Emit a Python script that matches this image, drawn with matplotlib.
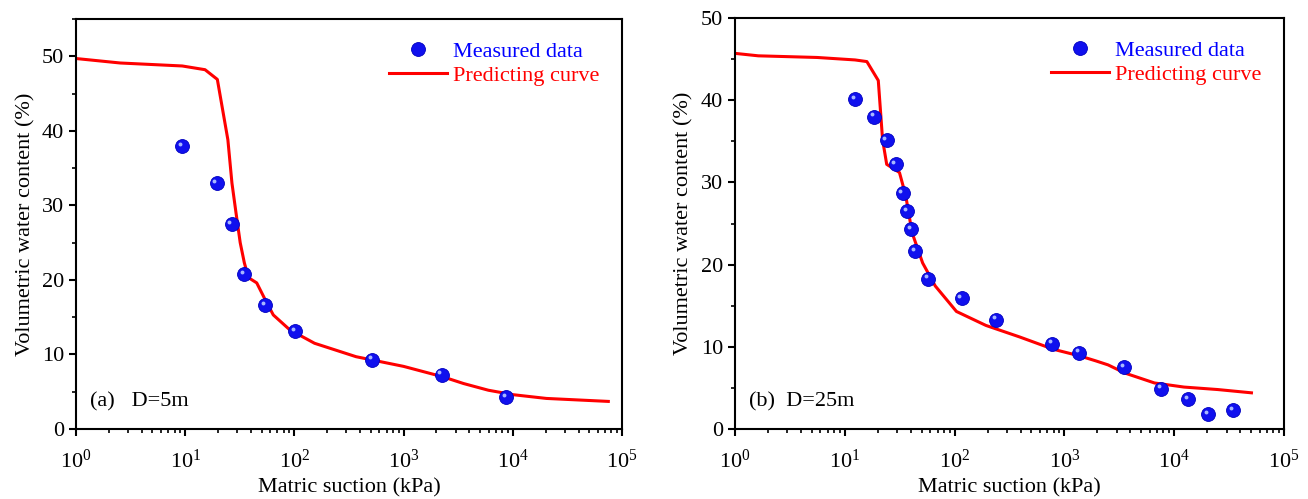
import numpy as np
import matplotlib
matplotlib.use("Agg")
from matplotlib import pyplot as plt
from matplotlib.ticker import LogLocator, MultipleLocator, NullFormatter
import matplotlib.transforms as mtransforms

plt.rcParams['font.family'] = ['Liberation Serif', 'DejaVu Serif']
plt.rcParams['mathtext.fontset'] = 'stix'

# (a) D=5m
meas_a_x = [9.35, 19.4, 26.6, 34.9, 54.1, 101, 516, 2230, 8670]
meas_a_y = [37.9, 33.0, 27.5, 20.8, 16.6, 13.1, 9.3, 7.3, 4.3]
curve_a_x = [1, 2.54, 9.4, 15.2, 19.7, 24.6, 26.8, 29.2, 31.9, 34.8, 38, 45.2, 53.8,
             64.1, 90.8, 153, 367, 1000, 2290, 3540, 5980, 10100, 20300, 75000]
curve_a_y = [49.7, 49.1, 48.7, 48.2, 46.9, 38.8, 33.0, 29.0, 25.0, 22.3, 20.3, 19.6, 17.4,
             15.3, 13.3, 11.5, 9.7, 8.4, 7.0, 6.1, 5.2, 4.6, 4.1, 3.7]

# (b) D=25m
meas_b_x = [12.4, 18.5, 24.1, 29.1, 33.7, 37.2, 40.3, 44.0, 57.4, 116, 238, 780, 1372,
            3530, 7620, 13400, 20500, 34300]
meas_b_y = [40.1, 38.0, 35.1, 32.2, 28.7, 26.5, 24.3, 21.6, 18.3, 15.9, 13.3, 10.4, 9.3,
            7.5, 4.9, 3.6, 1.8, 2.3]
curve_b_x = [1, 1.63, 5.6, 12.4, 15.9, 20.2, 22.1, 24.1, 31.5, 35.9, 41.0, 51.2, 66.7,
             104, 193, 391, 794, 1372, 1920, 2500, 3570, 6620, 12300, 24900, 50600]
curve_b_y = [45.7, 45.4, 45.2, 44.9, 44.7, 42.4, 35.2, 32.2, 31.2, 28.4, 23.9, 20.2, 17.4,
             14.3, 12.6, 11.2, 9.7, 8.9, 8.3, 7.8, 6.8, 5.6, 5.1, 4.8, 4.4]

panels = [
    ("(a)   D=5m", meas_a_x, meas_a_y, curve_a_x, curve_a_y, 55, [0.0581, 0.1403, 0.4174, 0.8216]),
    ("(b)  D=25m", meas_b_x, meas_b_y, curve_b_x, curve_b_y, 50, [0.5619, 0.1403, 0.4197, 0.8236]),
]

fig = plt.figure(figsize=(13.08, 4.99), dpi=100)

for label, mx, my, cx, cy, ymax, pos in panels:
    ax = fig.add_axes(pos)
    ax.plot(cx, cy, color='red', lw=2.2, label='Predicting curve', zorder=2)
    ax.plot(mx, my, 'o', color='#1010ee', markeredgecolor='#0000c0', markeredgewidth=0.6,
            markersize=10, ls='none', label='Measured data', zorder=3)
    # small highlight to mimic the shaded spheres
    hl = ax.transData + mtransforms.ScaledTranslation(-1.6 / 72, 1.6 / 72, fig.dpi_scale_trans)
    ax.plot(mx, my, 'o', color='#a8b8ff', markersize=2.8, markeredgewidth=0,
            ls='none', transform=hl, zorder=4)

    ax.set_xscale('log')
    ax.set_xlim(1, 1e5)
    ax.set_ylim(0, ymax)
    ax.xaxis.set_major_locator(LogLocator(base=10, numticks=10))
    ax.xaxis.set_minor_locator(LogLocator(base=10, subs=np.arange(2, 10), numticks=10))
    ax.xaxis.set_minor_formatter(NullFormatter())
    ax.yaxis.set_major_locator(MultipleLocator(10))
    ax.yaxis.set_minor_locator(MultipleLocator(5))
    ax.tick_params(which='both', direction='out', top=False, right=False, labelsize=16)
    ax.tick_params(which='major', length=5, width=1.5)
    ax.tick_params(which='minor', length=3, width=1.2)
    ax.tick_params(axis='x', which='major', pad=10)
    for sp in ax.spines.values():
        sp.set_linewidth(1.5)

    ax.set_xlabel('Matric suction (kPa)', fontsize=16, labelpad=4)
    ax.set_ylabel('Volumetric water content (%)', fontsize=16, labelpad=5)
    ax.text(0.026, 0.055, label, transform=ax.transAxes, fontsize=16)

    h, l = ax.get_legend_handles_labels()
    leg = ax.legend([h[1], h[0]], [l[1], l[0]], loc='upper right', frameon=False,
                    fontsize=16, handlelength=2.6, handletextpad=0.3,
                    borderaxespad=0.6, labelspacing=0.15)
    leg.get_texts()[0].set_color('blue')
    leg.get_texts()[1].set_color('red')

fig.savefig('out.png', dpi=100)
